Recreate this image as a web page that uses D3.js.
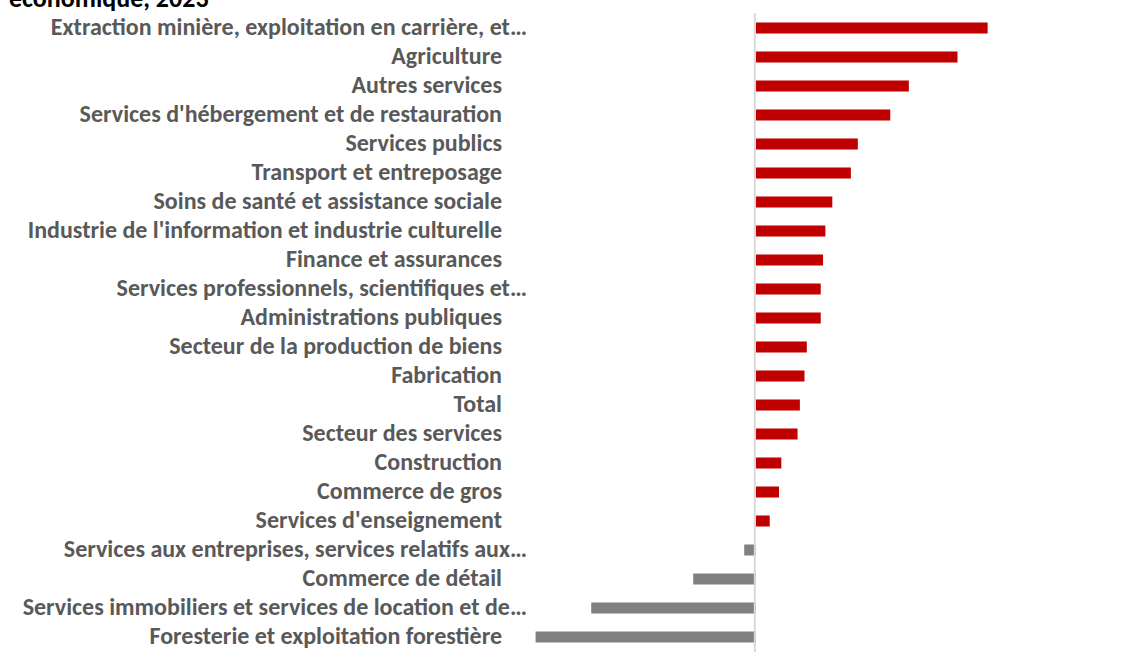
<!DOCTYPE html>
<html>
<head>
<meta charset="utf-8">
<script src="https://cdn.jsdelivr.net/npm/d3@7"></script>
<style>
  body { margin: 0; background: #fff; }
  svg { display: block; }
</style>
</head>
<body>
<div id="wrapper"></div>
<script>
// data
const categories = [
  "Extraction minière, exploitation en carrière, et…",
  "Agriculture",
  "Autres services",
  "Services d'hébergement et de restauration",
  "Services publics",
  "Transport et entreposage",
  "Soins de santé et assistance sociale",
  "Industrie de l'information et industrie culturelle",
  "Finance et assurances",
  "Services professionnels, scientifiques et…",
  "Administrations publiques",
  "Secteur de la production de biens",
  "Fabrication",
  "Total",
  "Secteur des services",
  "Construction",
  "Commerce de gros",
  "Services d'enseignement",
  "Services aux entreprises, services relatifs aux…",
  "Commerce de détail",
  "Services immobiliers et services de location et de…",
  "Foresterie et exploitation forestière"
]
const values = [10.0, 8.7, 6.6, 5.8, 4.4, 4.1, 3.3, 3.0, 2.9, 2.8, 2.8, 2.2, 2.1, 1.9, 1.8, 1.1, 1.0, 0.6, -0.5, -2.7, -7.1, -9.5]
const titleText = "économique, 2023"

const dataset = categories.map((c, i) => ({ category: c, value: values[i] }))

const dimensions = {
  width: 1125,
  height: 660,
}

const wrapper = d3.select("#wrapper")
  .append("svg")
  .attr("width", dimensions.width)
  .attr("height", dimensions.height)

// scales
const xScale = d3.scaleLinear()
  .domain([-10, 12])
  .range([524, 1034])

const yScale = d3.scaleBand()
  .domain(categories)
  .range([13.5, 651.5])
  .paddingInner(0.62)
  .paddingOuter(0.31)

const fontFamily = "Carlito, Calibri, Lato, sans-serif"

// title (its first line falls above the picture)
wrapper.append("text")
  .attr("x", 9)
  .attr("y", 7)
  .attr("fill", "#000")
  .style("font-family", fontFamily)
  .style("font-weight", 700)
  .style("font-size", "26px")
  .text(titleText)

// bars
wrapper.append("g")
  .selectAll("rect")
  .data(dataset)
  .join("rect")
  .attr("x", d => xScale(Math.min(0, d.value)))
  .attr("y", d => yScale(d.category))
  .attr("width", d => Math.abs(xScale(d.value) - xScale(0)))
  .attr("height", yScale.bandwidth())
  .attr("fill", d => d.value >= 0 ? "#c00000" : "#808080")

// zero axis line
wrapper.append("line")
  .attr("x1", xScale(0) - 1)
  .attr("x2", xScale(0) - 1)
  .attr("y1", 13)
  .attr("y2", 652)
  .attr("stroke", "#d9d9d9")
  .attr("stroke-width", 2)

// category labels
wrapper.append("g")
  .selectAll("text")
  .data(dataset)
  .join("text")
  .attr("x", d => d.category.endsWith("…") ? 527 : 502)
  .attr("y", d => yScale(d.category) + yScale.bandwidth() / 2)
  .attr("dy", "0.3em")
  .attr("text-anchor", "end")
  .attr("fill", "#595959")
  .style("font-family", fontFamily)
  .style("font-weight", 700)
  .style("font-size", "24px")
  .text(d => d.category)
</script>
</body>
</html>
